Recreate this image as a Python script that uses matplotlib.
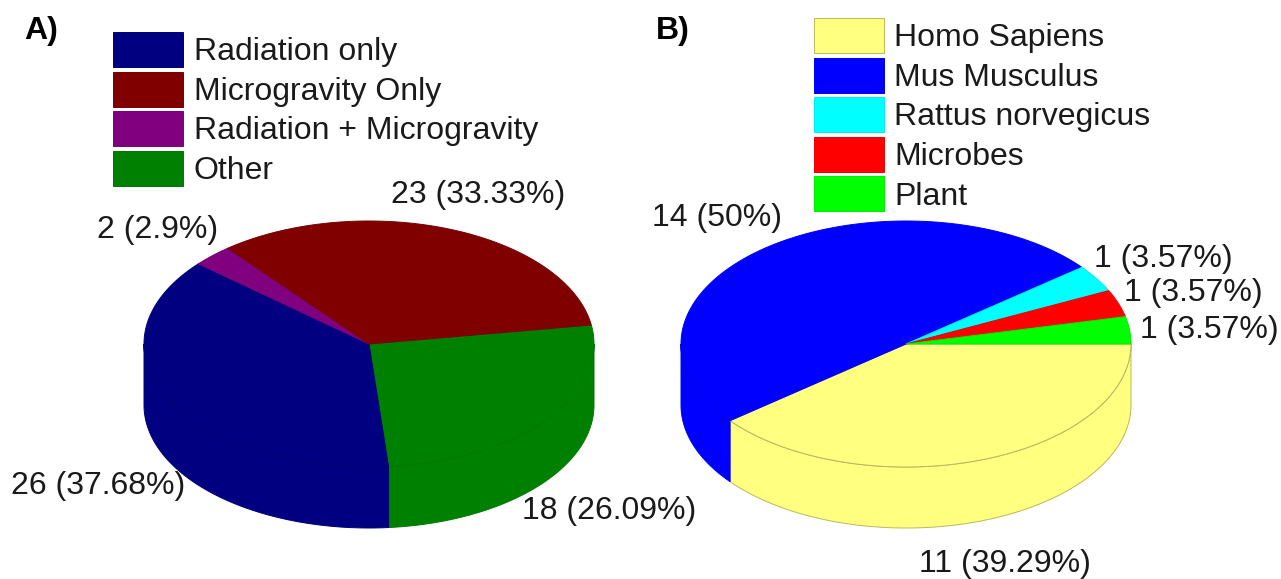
import matplotlib
matplotlib.use('Agg')
import matplotlib.pyplot as plt
from matplotlib.patches import Patch
import numpy as np

plt.rcParams['font.family'] = ['Liberation Sans', 'DejaVu Sans']

# panel A, clockwise starting from the green slice
a_names = ['Other', 'Radiation only', 'Radiation + Microgravity', 'Microgravity Only']
a_counts = [18, 26, 2, 23]
a_pcts = ['26.09', '37.68', '2.9', '33.33']
a_colors = ['#008000', '#000080', '#800080', '#800000']
a_legend = ['Radiation only', 'Microgravity Only', 'Radiation + Microgravity', 'Other']

# panel B, clockwise from 3 o'clock
b_names = ['Homo Sapiens', 'Mus Musculus', 'Rattus norvegicus', 'Microbes', 'Plant']
b_counts = [11, 14, 1, 1, 1]
b_pcts = ['39.29', '50', '3.57', '3.57', '3.57']
b_colors = ['#FFFF80', '#0000FF', '#00FFFF', '#FF0000', '#00FF00']

W, H = 1281, 579
RX, RY, DEPTH = 225, 123, 61
FS = 23


def arc(cx, cy, t0, t1):
    t = np.radians(np.linspace(t0, t1, 200))
    return cx + RX * np.cos(t), cy - RY * np.sin(t)


def edge_of(color):
    # only the pale yellow has a really visible outline
    rgb = np.array(matplotlib.colors.to_rgb(color))
    return tuple(rgb * (0.72 if rgb.min() > 0.4 else 0.93))


def pie3d(ax, cx, cy, counts, colors, start):
    angles = start - 360 * np.cumsum([0] + list(counts)) / sum(counts)

    # front wall first, only the part between 0 and -180 degrees shows
    for i, c in enumerate(colors):
        t0 = min(angles[i], 0)
        t1 = max(angles[i + 1], -180)
        if t0 <= t1:
            continue
        x, y = arc(cx, cy, t0, t1)
        px = np.r_[x, x[::-1]]
        py = np.r_[y, y[::-1] + DEPTH]
        ax.fill(px, py, fc=c, ec=edge_of(c), lw=0.7, joinstyle='bevel', zorder=2)

    for i, c in enumerate(colors):
        x, y = arc(cx, cy, angles[i], angles[i + 1])
        ax.fill(np.r_[cx, x], np.r_[cy, y], fc=c, ec=edge_of(c), lw=0.7, joinstyle='bevel', zorder=3)


fig = plt.figure(figsize=(W / 100, H / 100), dpi=100)
ax = fig.add_axes([0, 0, 1, 1])
ax.set_xlim(0, W)
ax.set_ylim(H, 0)
ax.axis('off')

pie3d(ax, 369, 344, a_counts, a_colors, 8.9)
pie3d(ax, 906, 344, b_counts, b_colors, 0)

# slice labels
a_pos = [(522, 511), (11, 486), (97, 230), (391, 195)]
for n, p, (x, y) in zip(a_counts, a_pcts, a_pos):
    ax.text(x, y, f'{n} ({p}%)', fontsize=FS, va='center', ha='left', color='#1a1a1a', zorder=5)

b_pos = [(919, 564), (652, 218), (1094, 259), (1124, 293), (1140, 330)]
for n, p, (x, y) in zip(b_counts, b_pcts, b_pos):
    ax.text(x, y, f'{n} ({p}%)', fontsize=FS, va='center', ha='left', color='#1a1a1a', zorder=5)

ax.text(24, 31, 'A)', fontsize=FS, fontweight='bold', va='center', zorder=5)
ax.text(656, 31, 'B)', fontsize=FS, fontweight='bold', va='center', zorder=5)


def make_legend(names, colors, x, y):
    handles = [Patch(fc=c, ec=edge_of(c), lw=0.7, label=n) for n, c in zip(names, colors)]
    return ax.legend(handles=handles, loc='upper left', bbox_to_anchor=(x / W, 1 - y / H),
                     bbox_transform=fig.transFigure, frameon=False, fontsize=FS,
                     borderpad=0, borderaxespad=0, handlelength=2.2, handleheight=1.31,
                     labelspacing=0.138, handletextpad=0.32, labelcolor='#1a1a1a')


a_lookup = dict(zip(a_names, a_colors))
leg = make_legend(a_legend, [a_lookup[n] for n in a_legend], 113, 32)
ax.add_artist(leg)
make_legend(b_names, b_colors, 814, 18)

fig.savefig('out.png', dpi=100)
